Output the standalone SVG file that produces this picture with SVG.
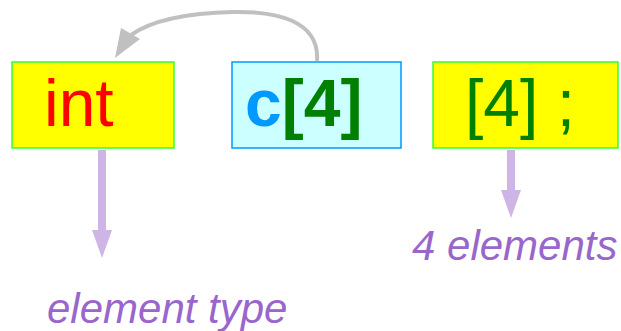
<svg xmlns="http://www.w3.org/2000/svg" width="621" height="331" viewBox="0 0 621 331">
<style>
.box{stroke-width:1.5}
.y{fill:#ffff00;stroke:#33ff33}
.cy{fill:#ccffff;stroke:#0099ff}
.t{font-family:"Liberation Sans",Arial,sans-serif;font-size:66px}
.lbl{font-family:"Liberation Sans",Arial,sans-serif;font-size:42px;font-style:italic;fill:#9966cc}
.pa{stroke:#cfb5e5;stroke-width:8;fill:none}
.ph{fill:#cfb5e5}
</style>
<g id="node-int">
<rect class="box y" x="12" y="62" width="162" height="86"/>
<text class="t" x="44" y="126" fill="#ff0000">int</text>
</g>
<g id="node-c4">
<rect class="box cy" x="232" y="62" width="169" height="86"/>
<text class="t" x="245" y="126" font-weight="bold"><tspan fill="#0099ff">c</tspan><tspan fill="#008000">[4]</tspan></text>
</g>
<g id="node-dim">
<rect class="box y" x="433" y="62" width="185" height="86"/>
<text class="t" x="465" y="126" fill="#008000">[4] ;</text>
</g>
<g id="connectors">
<path d="M317,61 C320,20 275,11 233,12 C190,13 152,20 131,35" stroke="#c0c0c0" stroke-width="4" fill="none"/>
<path d="M115,58 L121,28 L140,39 z" fill="#c0c0c0"/>
<line class="pa" x1="102" y1="150" x2="102" y2="231"/>
<path class="ph" d="M92,230 L112,230 L102,258 z"/>
<line class="pa" x1="511" y1="150" x2="511" y2="191"/>
<path class="ph" d="M501,190 L521,190 L511,218 z"/>
</g>
<g id="label-4elements"><text class="lbl" x="412" y="260">4 elements</text></g>
<g id="label-elementtype"><text class="lbl" x="47" y="323">element type</text></g>
</svg>
